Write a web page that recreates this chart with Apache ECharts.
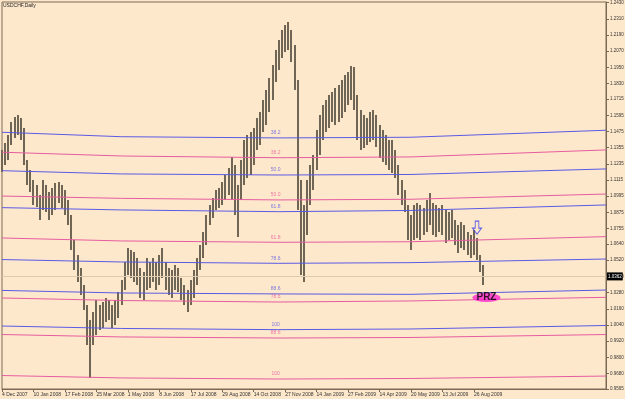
<!DOCTYPE html>
<html><head><meta charset="utf-8">
<script src="https://cdn.jsdelivr.net/npm/echarts@6/dist/echarts.min.js"></script>
<style>html,body{margin:0;padding:0;background:#fee8cb}#c{width:625px;height:399px}</style>
</head><body><div id="c"></div>
<script>
const chartTitle = 'USDCHF,Daily';
const xLabels = ['4 Dec 2007','10 Jan 2008','17 Feb 2008','25 Mar 2008','1 May 2008','8 Jun 2008','17 Jul 2008','29 Aug 2008','14 Oct 2008','27 Nov 2008','14 Jan 2009','27 Feb 2009','14 Apr 2009','20 May 2009','13 Jul 2009','26 Aug 2009'];
const labelEvery = 10;
const slotCount = 193;
const highs = [1.1337,1.1389,1.1448,1.1545,1.1582,1.1597,1.1574,1.1500,1.1263,1.1189,
1.1114,1.1077,1.1003,1.1114,1.1077,1.1025,1.1055,1.1092,1.1100,1.1077,
1.1040,1.0966,1.0855,1.0669,1.0558,1.0461,1.0335,1.0187,1.0076,1.0135,
1.0224,1.0187,1.0209,1.0239,1.0224,1.0187,1.0224,1.0283,1.0372,1.0506,
1.0610,1.0595,1.0580,1.0536,1.0461,1.0432,1.0536,1.0506,1.0536,1.0506,
1.0558,1.0610,1.0506,1.0461,1.0447,1.0484,1.0461,1.0387,1.0335,1.0298,
1.0372,1.0447,1.0536,1.0632,1.0729,1.0855,1.0929,1.0981,1.1040,1.1055,
1.1100,1.1152,1.1203,1.1285,1.1226,1.1077,1.1263,1.1411,1.1448,1.1471,
1.1500,1.1574,1.1619,1.1708,1.1782,1.1871,1.1968,1.2079,1.2153,1.2227,
1.2265,1.2287,1.2227,1.2116,1.1856,1.1114,1.0929,1.1114,1.1226,1.1300,
1.1485,1.1597,1.1671,1.1708,1.1745,1.1767,1.1797,1.1819,1.1856,1.1894,
1.1916,1.1960,1.1953,1.1745,1.1634,1.1597,1.1574,1.1619,1.1634,1.1597,
1.1523,1.1485,1.1448,1.1411,1.1411,1.1337,1.1226,1.1114,1.1040,1.0929,
1.0855,1.0929,1.0944,1.0929,1.0907,1.0966,1.1018,1.0944,1.0929,1.0907,
1.0929,1.0892,1.0877,1.0892,1.0818,1.0781,1.0803,1.0781,1.0729,1.0706,
1.0743,1.0684,1.0558,1.0484];
const lows = [1.1174,1.1226,1.1263,1.1374,1.1426,1.1448,1.1411,1.1226,1.1077,1.1025,
1.0929,1.0914,1.0818,1.0892,1.0877,1.0818,1.0855,1.0892,1.0944,1.0907,
1.0855,1.0781,1.0595,1.0447,1.0358,1.0261,1.0150,0.9890,0.9645,0.9890,
0.9964,1.0001,1.0016,1.0061,1.0076,1.0016,1.0039,1.0090,1.0187,1.0298,
1.0410,1.0387,1.0358,1.0335,1.0239,1.0224,1.0298,1.0313,1.0358,1.0298,
1.0335,1.0387,1.0298,1.0261,1.0239,1.0298,1.0283,1.0224,1.0187,1.0135,
1.0187,1.0239,1.0335,1.0447,1.0536,1.0632,1.0781,1.0832,1.0892,1.0907,
1.0929,1.0966,1.1003,1.0966,1.0855,1.0691,1.0966,1.1077,1.1129,1.1152,
1.1226,1.1337,1.1374,1.1471,1.1523,1.1619,1.1708,1.1842,1.1931,1.2020,
1.2064,1.2079,1.1990,1.1782,1.0892,1.0410,1.0358,1.0706,1.0929,1.1040,
1.1189,1.1300,1.1411,1.1471,1.1500,1.1545,1.1523,1.1545,1.1574,1.1619,
1.1671,1.1708,1.1634,1.1411,1.1337,1.1352,1.1374,1.1396,1.1411,1.1359,
1.1278,1.1248,1.1226,1.1189,1.1166,1.1129,1.1003,1.0929,1.0877,1.0669,
1.0595,1.0669,1.0684,1.0669,1.0706,1.0729,1.0781,1.0706,1.0691,1.0729,
1.0706,1.0647,1.0669,1.0684,1.0632,1.0573,1.0610,1.0595,1.0558,1.0536,
1.0558,1.0521,1.0432,1.0335];
const yTickLabels = ['1.2430','1.2310','1.2190','1.2070','1.1950','1.1830','1.1715','1.1595','1.1475','1.1355','1.1235','1.1115','1.0995','1.0875','1.0755','1.0640','1.0520','1.0400','1.0280','1.0160','1.0040','0.9920','0.9800','0.9680','0.9565'];
const lastPrice = 1.0362;
const fibAnchors = [0, 38, 88, 130, 192];
const fibNames = ['38.2','50.0','61.8','78.6','88.6','100'];
const blueFib = [
  [1.1469,1.1436,1.1427,1.1432,1.1484],
  [1.1184,1.1160,1.1152,1.1156,1.1197],
  [1.0910,1.0893,1.0880,1.0889,1.0930],
  [1.0525,1.0507,1.0497,1.0502,1.0529],
  [1.0296,1.0277,1.0270,1.0267,1.0299],
  [1.0032,1.0014,1.0005,1.0010,1.0036]
];
const pinkFib = [
  [1.1321,1.1293,1.1280,1.1286,1.1338],
  [1.0996,1.0979,1.0967,1.0972,1.1011],
  [1.0685,1.0663,1.0653,1.0657,1.0695],
  [1.0240,1.0221,1.0210,1.0218,1.0245],
  [0.9969,0.9951,0.9943,0.9947,0.9969],
  [0.9665,0.9647,0.9639,0.9643,0.9661]
];
const fibLabelSlot = 87;
const arrowPoint = [151, 1.0762];
const przPoint = [154, 1.0243];

const BG = '#fee8cb', FRAME = '#7a6a55', BAR = '#6f6656';
const BLUE = '#5a5ae6', PINK = '#e65ca0';
const FONT = 'Liberation Sans';

const categories = Array.from({length: slotCount}, (_, i) => String(i));
const ranges = highs.map((h, i) => [i, lows[i], h]);

const series = [{
  type: 'custom', z: 2, silent: true,
  data: ranges,
  renderItem: function (params, api) {
    const lo = api.coord([api.value(0), api.value(1)]);
    const hi = api.coord([api.value(0), api.value(2)]);
    const x = Math.round(lo[0] - 1);
    return {type: 'rect', shape: {x: x, y: Math.round(hi[1]), width: 2, height: Math.max(1, Math.round(lo[1] - hi[1]))},
      style: {fill: BAR}};
  },
  encode: {x: 0, y: [1, 2]},
  markLine: {
    symbol: 'none', silent: true, animation: false,
    lineStyle: {color: '#dcc9ae', type: 'solid', width: 1},
    label: {position: 'end', distance: 1, formatter: lastPrice.toFixed(4), color: '#fff',
      backgroundColor: '#000', fontSize: 4.5, fontFamily: FONT, padding: [2, 1, 1, 1]},
    data: [{yAxis: lastPrice}]
  }
}];

function addFib(levels, color) {
  levels.forEach((vals, k) => {
    series.push({
      type: 'line', silent: true, symbol: 'none', z: 3,
      lineStyle: {color: color, width: 1},
      data: fibAnchors.map((a, j) => [a, vals[j]])
    });
    series.push({
      type: 'scatter', silent: true, symbolSize: 1, z: 4,
      itemStyle: {color: 'rgba(0,0,0,0)'},
      label: {show: true, position: 'top', distance: 2, formatter: fibNames[k],
        color: color, fontSize: 5, fontFamily: FONT},
      data: [[fibLabelSlot, vals[2]]]
    });
  });
}
addFib(blueFib, BLUE);
addFib(pinkFib, PINK);

series.push({
  type: 'scatter', silent: true, z: 5,
  symbol: 'path://M3,0L7,0L7,7L10,7L5,13L0,7L3,7Z', symbolSize: [9, 13],
  itemStyle: {color: 'rgba(0,0,0,0)', borderColor: '#2f3cf0', borderWidth: 1},
  data: [arrowPoint]
});
series.push({
  type: 'scatter', silent: true, z: 5,
  symbol: 'circle', symbolSize: [28, 9],
  itemStyle: {color: '#ff26cf'},
  label: {show: true, position: 'inside', formatter: 'PRZ', color: '#000',
    fontWeight: 'bold', fontSize: 10, fontFamily: FONT},
  data: [przPoint]
});

const chart = echarts.init(document.getElementById('c'), null, {renderer: 'canvas'});
chart.setOption({
  animation: false,
  backgroundColor: BG,
  title: {text: chartTitle, left: 3, top: 3, padding: 0,
    textStyle: {fontSize: 5, fontWeight: 'normal', color: '#222', fontFamily: FONT}},
  grid: {left: 2, right: 19, top: 2, bottom: 10, show: true, borderColor: FRAME,
    borderWidth: 1, backgroundColor: BG, containLabel: false, outerBoundsMode: 'none'},
  xAxis: {
    type: 'category', data: categories, boundaryGap: false,
    axisLine: {show: true, lineStyle: {color: FRAME, width: 1}},
    axisTick: {show: true, length: 3, lineStyle: {color: FRAME},
      interval: (i) => i % labelEvery === 0 && i / labelEvery < xLabels.length},
    axisLabel: {
      show: true, fontSize: 5, fontFamily: FONT, color: '#333', margin: 3, align: 'left',
      interval: (i) => i % labelEvery === 0 && i / labelEvery < xLabels.length,
      formatter: (v, i) => xLabels[i / labelEvery] || ''
    },
    splitLine: {show: false}
  },
  yAxis: {
    type: 'value', position: 'right', min: 0.9565, max: 1.2435, scale: true,
    axisLine: {show: true, lineStyle: {color: FRAME, width: 1}},
    axisTick: {show: true, length: 3, lineStyle: {color: FRAME},
      customValues: yTickLabels.map(Number)},
    axisLabel: {show: true, fontSize: 4.5, fontFamily: FONT, color: '#333', margin: 4,
      customValues: yTickLabels.map(Number), formatter: (v) => v.toFixed(4)},
    splitLine: {show: false}
  },
  series: series
});
</script></body></html>
